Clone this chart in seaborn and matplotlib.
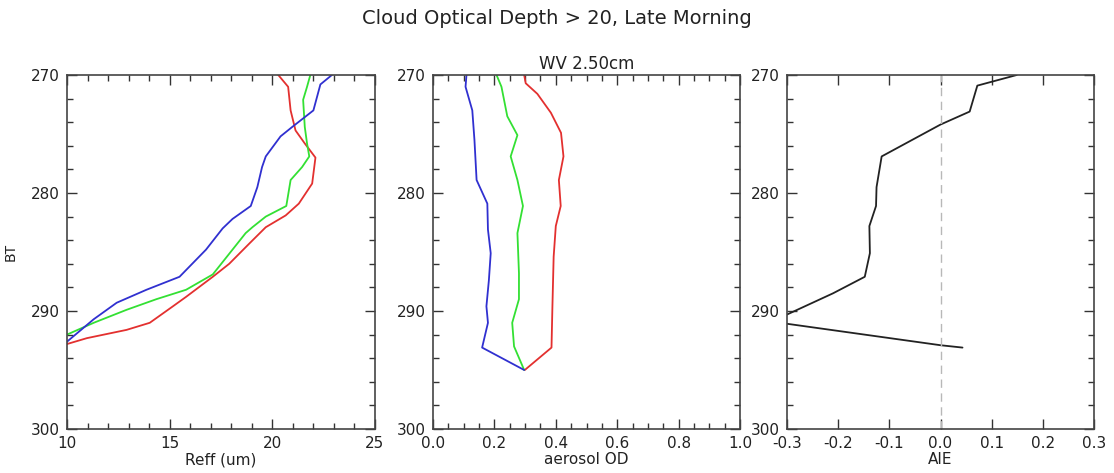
import numpy as np
import pandas as pd
import matplotlib
matplotlib.use("Agg")
import matplotlib.pyplot as plt
from matplotlib.ticker import MultipleLocator, FormatStrFormatter, NullLocator
import seaborn as sns

sns.set_style("white")
plt.rcParams['font.family'] = ['DejaVu Sans']

# ---- Panel 1: Reff (um) vs BT ----
reff_red_x = [20.29, 20.77, 20.89, 21.13, 21.58, 22.1, 21.94, 21.29, 20.65, 19.68, 18.87, 17.9, 17.1, 15.8, 15.16, 14.03, 12.9, 10.97, 10.0]
reff_red_y = [270, 271.0, 273, 274.7, 275.8, 277.0, 279.2, 280.9, 281.9, 282.9, 284.3, 286.0, 287.1, 288.8, 289.6, 291.0, 291.6, 292.3, 292.8]
reff_green_x = [21.85, 21.69, 21.5, 21.58, 21.69, 21.8, 21.45, 20.89, 20.68, 19.68, 19.03, 18.7, 17.1, 15.8, 14.35, 12.9, 11.3, 10.0]
reff_green_y = [270, 271, 272.1, 274.4, 275.8, 276.9, 277.8, 278.9, 281.1, 282.0, 282.9, 283.4, 286.9, 288.2, 289.0, 289.9, 291.0, 292.0]
reff_blue_x = [22.9, 22.34, 22.0, 20.97, 20.4, 19.68, 19.5, 19.27, 18.95, 18.06, 17.58, 16.77, 15.48, 13.87, 12.42, 11.3, 10.0]
reff_blue_y = [270, 270.8, 273, 274.4, 275.2, 276.9, 277.8, 279.5, 281.1, 282.2, 283.0, 284.8, 287.1, 288.2, 289.3, 290.7, 292.6]

# ---- Panel 2: aerosol OD vs BT ----
aod_red_x = [0.297, 0.302, 0.34, 0.384, 0.417, 0.425, 0.41, 0.416, 0.40, 0.393, 0.389, 0.386, 0.299]
aod_red_y = [270, 270.7, 271.6, 273.2, 274.9, 276.9, 278.9, 281.1, 282.8, 285.4, 289.6, 293.1, 295.0]
aod_green_x = [0.207, 0.223, 0.242, 0.275, 0.253, 0.275, 0.293, 0.275, 0.28, 0.28, 0.258, 0.264, 0.297]
aod_green_y = [270, 271, 273.5, 275.1, 276.9, 278.9, 281.1, 283.4, 286.8, 289.0, 291.0, 293.0, 295.0]
aod_blue_x = [0.109, 0.106, 0.128, 0.135, 0.142, 0.177, 0.179, 0.188, 0.182, 0.174, 0.179, 0.16, 0.297]
aod_blue_y = [270, 271, 273, 275.5, 278.9, 280.9, 283.1, 285.1, 287.4, 289.6, 291.0, 293.1, 295.0]

# ---- Panel 3: AIE vs BT ----
aie_x = [0.149, 0.072, 0.057, 0.0, -0.115, -0.125, -0.126, -0.139, -0.138, -0.148, -0.21, -0.33, 0.0, 0.043]
aie_y = [270, 270.9, 273.1, 274.2, 276.9, 279.5, 281.1, 282.8, 285.1, 287.1, 288.5, 290.9, 292.9, 293.1]

title = "Cloud Optical Depth > 20, Late Morning"
subtitle = "WV 2.50cm"

W, H = 1114, 473
fig = plt.figure(figsize=(W / 100, H / 100), dpi=100)

def px_axes(x0, x1, y0=75, y1=429):
    return fig.add_axes([x0 / W, 1 - y1 / H, (x1 - x0) / W, (y1 - y0) / H])

ax1 = px_axes(67, 375)
ax2 = px_axes(433, 740)
ax3 = px_axes(787, 1094)

RED, GREEN, BLUE = "#e3302f", "#33e033", "#3030d0"
lw = 1.3

def draw(ax, x, y, color):
    df = pd.DataFrame({"x": x, "y": y})
    sns.lineplot(data=df, x="x", y="y", sort=False, estimator=None, color=color, lw=lw, ax=ax)

draw(ax1, reff_red_x, reff_red_y, RED)
draw(ax1, reff_green_x, reff_green_y, GREEN)
draw(ax1, reff_blue_x, reff_blue_y, BLUE)

draw(ax2, aod_red_x, aod_red_y, RED)
draw(ax2, aod_green_x, aod_green_y, GREEN)
draw(ax2, aod_blue_x, aod_blue_y, BLUE)

draw(ax3, aie_x, aie_y, "#222222")
ax3.axvline(0.0, color="#b8b8b8", lw=1.0, ls=(0, (6, 4)))

ax1.set_xlim(10, 25)
ax1.xaxis.set_major_locator(MultipleLocator(5))
ax1.xaxis.set_minor_locator(MultipleLocator(1))
ax1.xaxis.set_major_formatter(FormatStrFormatter("%d"))

ax2.set_xlim(0, 1)
ax2.xaxis.set_major_locator(MultipleLocator(0.2))
ax2.xaxis.set_minor_locator(MultipleLocator(0.05))
ax2.xaxis.set_major_formatter(FormatStrFormatter("%.1f"))

ax3.set_xlim(-0.3, 0.3)
ax3.xaxis.set_major_locator(MultipleLocator(0.1))
ax3.xaxis.set_minor_locator(NullLocator())
ax3.xaxis.set_major_formatter(FormatStrFormatter("%.1f"))

for ax in (ax1, ax2, ax3):
    ax.set_ylim(300, 270)
    ax.yaxis.set_major_locator(MultipleLocator(10))
    ax.yaxis.set_minor_locator(MultipleLocator(2))
    ax.yaxis.set_major_formatter(FormatStrFormatter("%d"))
    ax.tick_params(which="both", direction="in", top=True, right=True,
                   bottom=True, left=True,
                   color="#333333", width=1.0, labelsize=11, labelcolor="#222222")
    ax.tick_params(which="major", length=7, pad=5)
    ax.tick_params(which="minor", length=4)
    for s in ax.spines.values():
        s.set_color("#444444")
        s.set_linewidth(1.2)
    ax.set_ylabel("")
    ax.set_xlabel("")

ax1.set_xlabel("Reff (um)", fontsize=11, color="#222222", labelpad=1)
ax2.set_xlabel("aerosol OD", fontsize=11, color="#222222", labelpad=1)
ax3.set_xlabel("AIE", fontsize=11, color="#222222", labelpad=1)
ax1.set_ylabel("BT", fontsize=10, color="#222222", labelpad=10)
ax2.set_title(subtitle, fontsize=12, color="#222222", pad=4)

fig.text(0.5, 1 - 18 / H, title, ha="center", va="center", fontsize=14, color="#222222")

fig.savefig("out.png", dpi=100, facecolor="white")
